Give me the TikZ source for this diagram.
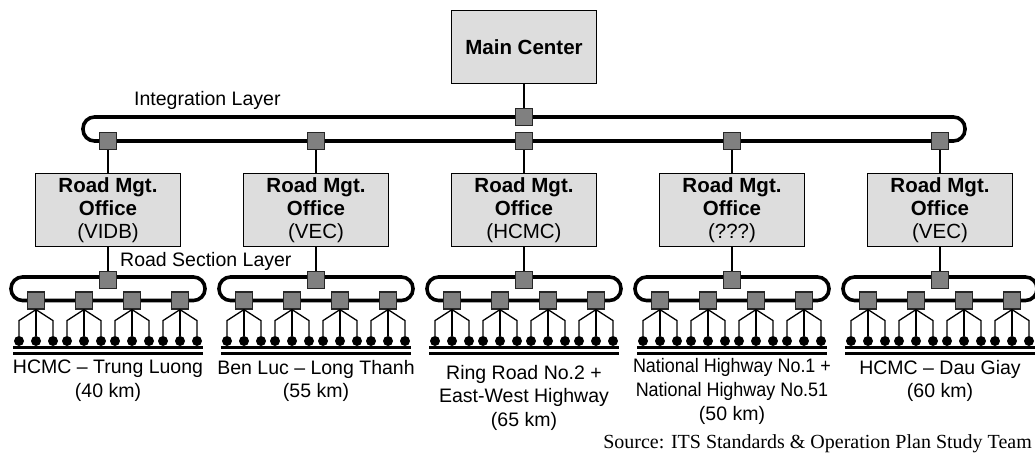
\documentclass[tikz,border=0pt]{standalone}
\usepackage{fontspec}
\setmainfont{Liberation Sans}
\newfontfamily\sourcefont{Liberation Serif}
\newfontfamily\narrowfont{Liberation Sans}[FakeStretch=0.92]
\usepackage{tikz}
\usetikzlibrary{positioning}
\definecolor{BoxGray}{RGB}{221, 221, 221}
\definecolor{HubGray}{RGB}{128, 128, 128}

\begin{document}
\begin{tikzpicture}[
        x = 1pt, y = -1pt,
        box/.style = {draw, line width=1.6pt, fill=BoxGray, minimum width=145pt, minimum height=73pt, inner sep=0pt, align=center, font=\fontsize{20.5}{23}\selectfont\bfseries},
        hub/.style = {draw=black!85, line width=1.2pt, fill=HubGray, minimum size=17pt, inner sep=0pt},
        ring/.style = {draw, line width=3.6pt, rounded corners=11.5pt},
        link/.style = {draw, line width=1.4pt},
        sensor/.style = {circle, fill=black, minimum size=10pt, inner sep=0pt},
        rail/.style = {draw, line width=2.8pt},
        caption/.style = {anchor=north, align=center, inner sep=0pt, font=\fontsize{19.5}{23.5}\selectfont},
        layer/.style = {anchor=base west, inner sep=0pt, font=\fontsize{19.5}{23.5}\selectfont}
    ]
        \useasboundingbox (0,0) rectangle (1035,454);

        % Integration layer
        \draw [ring] (83,117) rectangle (965,141);
        \node (int_top) [hub] at (524,117) {};
        \node (main_center) [box, above=23.5pt of int_top] {Main Center};
        \draw [link] (main_center) -- (int_top);
        \node (int_label) [layer] at (134,106) {Integration Layer};

        % Road offices and their section rings
        \foreach \i/\x/\tag in {1/108/VIDB, 2/316/VEC, 3/524/HCMC, 4/732/???, 5/940/VEC} {
            \node (int_\i) [hub] at (\x,141) {};
            \node (office_\i) [box, below=22.5pt of int_\i] {Road Mgt.\\Office\\{\mdseries(\tag)}};
            \draw [link] (int_\i) -- (office_\i);

            \draw [ring] (\x-97,277) rectangle (\x+97,300.5);
            \node (section_\i) [hub, below=23.5pt of office_\i] {};
            \draw [link] (office_\i) -- (section_\i);

            % roadside units, each feeding three devices
            \foreach \j/\dx in {1/-72, 2/-24, 3/24, 4/72} {
                \node (unit_\i_\j) [hub] at (\x+\dx,300.5) {};
                \foreach \k/\s in {1/-1, 2/0, 3/1} {
                    \node (device_\i_\j_\k) [sensor] at (\x+\dx+\s*17,341) {};
                    \draw [link, line width=1.3pt] (unit_\i_\j.south) -- ++(\s*17,11) -- (device_\i_\j_\k);
                }
            }
            \draw [rail] (\x-95,347.5) -- (\x+95,347.5);
            \draw [rail] (\x-95,353.5) -- (\x+95,353.5);
        }
        \node (section_label) [layer] at (120,266) {Road Section Layer};

        % Road sections
        \node (road_1) [caption] at (108,360) {HCMC -- Trung Luong\\(40 km)};
        \node (road_2) [caption] at (316,360) {Ben Luc -- Long Thanh\\(55 km)};
        \node (road_3) [caption] at (524,365) {Ring Road No.2 +\\East-West Highway\\(65 km)};
        \node (road_4) [caption, font=\fontsize{19.5}{24}\selectfont] at (732,358) {{\narrowfont National Highway No.1 +}\\{\narrowfont National Highway No.51}\\(50 km)};
        \node (road_5) [caption] at (940,360) {HCMC -- Dau Giay\\(60 km)};

        \node (source_note) [anchor=base east, inner sep=0pt, font=\sourcefont\fontsize{20}{24}\selectfont] at (1032,448) {Source: ITS Standards \& Operation Plan Study Team};
    \end{tikzpicture}
\end{document}
